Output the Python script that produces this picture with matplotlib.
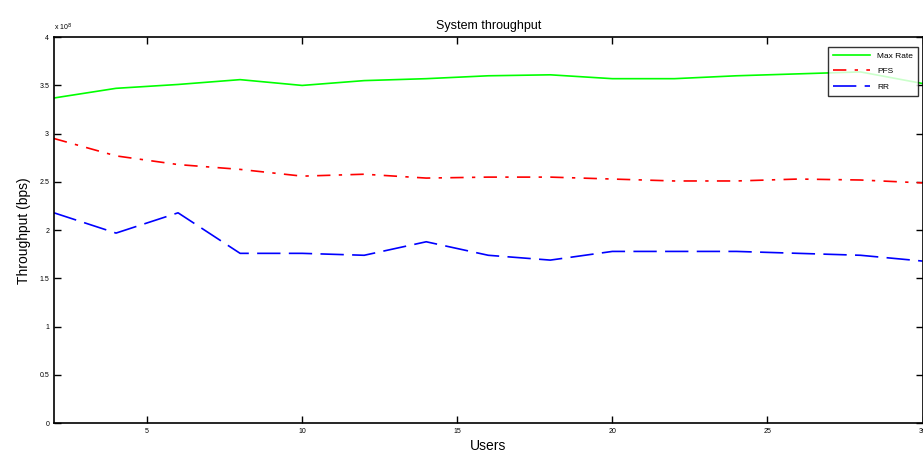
import matplotlib
matplotlib.use("Agg")
import matplotlib.pyplot as plt
from matplotlib.ticker import FuncFormatter

plt.rcParams['font.family'] = ['Liberation Sans', 'DejaVu Sans']

users = [2, 4, 6, 8, 10, 12, 14, 16, 18, 20, 22, 24, 26, 28, 30]
max_rate = [3.37, 3.47, 3.51, 3.56, 3.50, 3.55, 3.57, 3.60, 3.61, 3.57, 3.57, 3.60, 3.62, 3.64, 3.52]
pfs = [2.95, 2.77, 2.68, 2.63, 2.56, 2.58, 2.54, 2.55, 2.55, 2.53, 2.51, 2.51, 2.53, 2.52, 2.49]
rr = [2.18, 1.97, 2.18, 1.76, 1.76, 1.74, 1.88, 1.74, 1.69, 1.78, 1.78, 1.78, 1.76, 1.74, 1.68]

scale = 1e8
max_rate = [v * scale for v in max_rate]
pfs = [v * scale for v in pfs]
rr = [v * scale for v in rr]

fig = plt.figure(figsize=(9.23, 4.59), dpi=100)
ax = fig.add_axes([0.0585, 0.078, 0.941, 0.841])

ax.plot(users, max_rate, color='#00ff00', linestyle='-', linewidth=1.2, label='Max Rate')
ax.plot(users, pfs, color='#ff0000', linestyle=(0, (8, 5, 2, 5)), linewidth=1.2, label='PFS')
ax.plot(users, rr, color='#0000ff', linestyle=(0, (14, 5)), linewidth=1.2, label='RR')

ax.set_xlim(2, 30)
ax.set_ylim(0, 4e8)
ax.set_xticks([5, 10, 15, 20, 25, 30])
ax.set_yticks([i * 0.5e8 for i in range(9)])
ax.yaxis.set_major_formatter(FuncFormatter(lambda v, p: '%g' % (v / scale)))
ax.text(0.0, 1.012, r'x 10$^8$', transform=ax.transAxes, fontsize=5, ha='left', va='bottom')

ax.tick_params(direction='in', length=5, width=1, labelsize=5, top=True, right=True)
for s in ax.spines.values():
    s.set_linewidth(1.2)

ax.set_title('System throughput', fontsize=9, pad=6)
ax.set_xlabel('Users', fontsize=10, labelpad=3)
ax.set_ylabel('Throughput (bps)', fontsize=10, labelpad=6)

leg = ax.legend(loc='upper right', fontsize=6, frameon=True, fancybox=False,
                edgecolor='black', borderpad=0.6, handlelength=4.5, labelspacing=0.9,
                handletextpad=0.8, bbox_to_anchor=(0.9995, 0.985))
leg.get_frame().set_linewidth(1.0)

fig.savefig('out.png', dpi=100)
